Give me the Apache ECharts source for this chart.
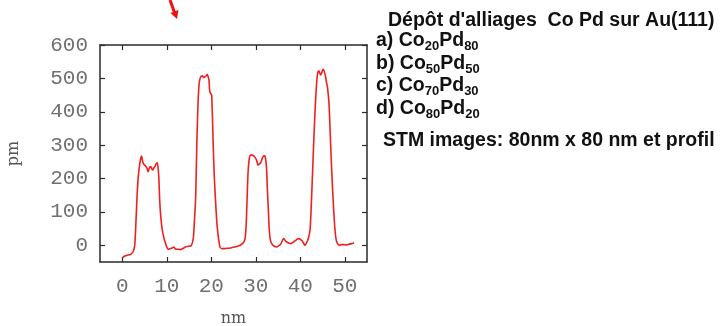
<!DOCTYPE html>
<html>
<head>
<meta charset="utf-8">
<script src="https://cdn.jsdelivr.net/npm/echarts@6/dist/echarts.min.js"></script>
<style>
html,body{margin:0;padding:0;background:#fff;}
#chart{width:720px;height:326px;}
</style>
</head>
<body>
<div id="chart"></div>
<script>
// Profile data: x in nm, height in pm
const profileX = [0.0,0.5,1.1,1.9,2.5,2.8,3.0,3.3,3.6,4.0,4.35,4.6,4.9,5.2,5.5,5.8,6.1,6.4,6.7,6.9,7.1,7.35,7.6,7.9,8.1,8.25,8.4,8.6,8.9,9.15,9.5,9.75,10.0,10.3,10.8,11.2,11.6,11.9,12.2,12.7,13.1,13.6,14.2,14.8,15.4,15.7,16.0,16.25,16.5,16.75,17.0,17.25,17.5,17.8,18.0,18.3,18.6,18.9,19.1,19.3,19.5,19.6,19.7,20.0,20.1,20.3,20.45,20.7,21.0,21.25,21.5,21.75,21.95,22.4,22.85,23.5,24.4,25.2,25.9,26.5,27.0,27.4,27.6,27.8,27.95,28.1,28.3,28.55,28.85,29.2,29.6,29.9,30.2,30.5,30.8,31.1,31.4,31.6,31.9,32.1,32.3,32.45,32.6,32.8,33.0,33.3,33.7,34.1,34.5,34.8,35.2,35.6,36.0,36.3,36.6,36.9,37.4,37.9,38.5,39.0,39.4,39.7,40.1,40.45,40.8,41.05,41.3,41.6,41.9,42.2,42.45,42.7,43.0,43.3,43.55,43.8,44.0,44.2,44.4,44.6,44.85,45.0,45.2,45.45,45.7,45.9,46.1,46.3,46.5,46.75,47.0,47.3,47.6,47.85,48.1,48.4,48.7,49.2,49.8,50.3,50.9,51.5,52.1];
const profileY = [-38,-33,-30,-27,-17,0,45,140,205,250,267,250,242,238,233,220,232,236,228,226,232,236,244,247,225,195,140,95,55,35,15,5,-5,-12,-10,-8,-5,-10,-12,-12,-13,-10,-5,-3,-2,5,25,80,145,300,415,480,500,507,508,502,505,508,512,505,495,470,460,452,450,370,295,200,125,70,35,10,-5,-10,-10,-9,-8,-5,-3,0,5,12,20,50,95,160,225,260,270,270,267,262,255,240,244,247,258,265,268,267,250,225,170,115,55,15,3,-2,-4,-5,-1,3,15,20,15,10,7,5,10,15,19,20,17,13,5,0,5,13,25,45,110,195,300,395,460,505,520,523,515,510,518,524,527,518,505,488,475,450,415,330,245,160,85,40,15,5,0,2,2,1,3,5,8];
const xTicks = [0,10,20,30,40,50];
const yTicks = [0,100,200,300,400,500,600];
const titleText = "Dépôt d'alliages  Co Pd sur Au(111)";
const alloyLines = [
  ["a) Co", "20", "Pd", "80"],
  ["b) Co", "50", "Pd", "50"],
  ["c) Co", "70", "Pd", "30"],
  ["d) Co", "80", "Pd", "20"]
];
const footText = "STM images: 80nm x 80 nm et profil";

const chart = echarts.init(document.getElementById('chart'), null, {renderer:'canvas'});
const pts = profileX.map((x,i)=>[x, profileY[i]]);
const boxColor = '#2a2a2a';
const lblColor = '#707070';
const monoFont = 'Liberation Mono';
const textFont = 'Liberation Sans';
const textSize = 19.5;

function axisCommon(){
  return {
    axisLine:{show:true, onZero:false, lineStyle:{color:boxColor, width:1.5}},
    splitLine:{show:false}
  };
}
const tickStyle = (vals)=>({show:true, inside:true, length:5, customValues:vals, lineStyle:{color:boxColor, width:1.2}});

const alloyGraphics = alloyLines.map((p,i)=>({
  type:'text', left:376, top:[31,54,76,99][i],
  style:{
    text: p[0] + '{s|' + p[1] + '}' + p[2] + '{s|' + p[3] + '}',
    fontFamily:textFont, fontWeight:'bold', fontSize:textSize, fill:'#111',
    rich:{ s:{fontSize:13, fontWeight:'bold', fontFamily:textFont, fill:'#111', verticalAlign:'bottom', padding:[0,0,-2,0]} }
  }
}));

chart.setOption({
  animation:false,
  backgroundColor:'#ffffff',
  grid:{left:100, right:353, top:45, bottom:64, containLabel:false, outerBoundsMode:'none'},
  xAxis:[
    Object.assign(axisCommon(), {
      type:'value', min:-5, max:55, position:'bottom',
      axisTick:tickStyle(xTicks),
      axisLabel:{show:true, customValues:xTicks, color:lblColor, fontFamily:monoFont, fontSize:21, margin:14},
      name:'nm', nameLocation:'middle', nameGap:49,
      nameTextStyle:{fontFamily:'DejaVu Serif', fontSize:16, color:'#555'}
    }),
    Object.assign(axisCommon(), {
      type:'value', min:-5, max:55, position:'top',
      axisTick:tickStyle(xTicks),
      axisLabel:{show:false}
    })
  ],
  yAxis:[
    Object.assign(axisCommon(), {
      type:'value', min:-50, max:600, position:'left',
      axisTick:tickStyle(yTicks),
      axisLabel:{show:true, customValues:yTicks, color:lblColor, fontFamily:monoFont, fontSize:21, margin:12},
      name:'pm', nameLocation:'middle', nameGap:78, nameRotate:90,
      nameTextStyle:{fontFamily:'DejaVu Serif', fontSize:16, color:'#555'}
    }),
    Object.assign(axisCommon(), {
      type:'value', min:-50, max:600, position:'right',
      axisTick:tickStyle(yTicks),
      axisLabel:{show:false}
    })
  ],
  series:[{
    type:'line', xAxisIndex:0, yAxisIndex:0, data:pts,
    showSymbol:false, smooth:0.2,
    lineStyle:{color:'#f02020', width:1.6}
  }],
  graphic:[
    {type:'line', shape:{x1:170,y1:0,x2:174.5,y2:12.5}, style:{stroke:'#ee1111', lineWidth:3}},
    {type:'polygon', shape:{points:[[177,19],[178.5,10],[170.5,12.9]]}, style:{fill:'#ee1111'}},
    {type:'text', left:388, top:11, style:{text:titleText, fontFamily:textFont, fontWeight:'bold', fontSize:textSize, fill:'#111'}},
    ...alloyGraphics,
    {type:'text', left:383, top:131, style:{text:footText, fontFamily:textFont, fontWeight:'bold', fontSize:textSize, fill:'#111'}}
  ]
});
</script>
</body>
</html>
